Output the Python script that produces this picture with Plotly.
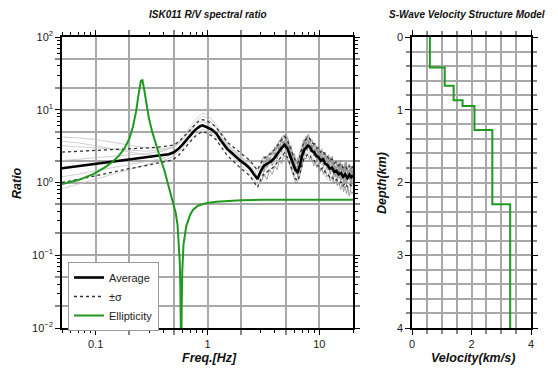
import plotly.graph_objects as go

# ---------------- data ----------------
# Average H/V ratio and +/- sigma
f_avg = [0.05, 0.06, 0.07, 0.085, 0.1, 0.12, 0.15, 0.2, 0.25, 0.3, 0.35, 0.4, 0.45, 0.5, 0.55,
         0.6, 0.65, 0.7, 0.75, 0.8, 0.85, 0.9, 0.95, 1.0, 1.1, 1.2, 1.3, 1.4, 1.5, 1.65,
         1.8, 2.0, 2.2, 2.4, 2.6, 2.8, 3.0, 3.2, 3.4, 3.7, 4.0, 4.3, 4.6, 4.9, 5.2,
         5.5, 5.8, 6.1, 6.4, 6.7, 7.0, 7.3, 7.6, 7.9, 8.2, 8.6, 9.0, 9.4, 9.8, 10.3,
         10.8, 11.3, 11.8, 12.4, 13.0, 13.6, 14.2, 14.9, 15.6, 16.3, 17.0, 17.8, 18.6, 19.3, 20.0]
avg = [1.57, 1.63, 1.68, 1.75, 1.81, 1.88, 1.96, 2.06, 2.14, 2.22, 2.3, 2.37, 2.45, 2.6, 2.9,
       3.35, 3.9, 4.4, 5.0, 5.5, 5.9, 6.1, 5.95, 5.7, 5.3, 4.7, 3.9, 3.3, 2.9, 2.55,
       2.25, 1.95, 1.75, 1.55, 1.3, 1.12, 1.45, 1.7, 1.8, 1.95, 2.2, 2.6, 3.0, 3.3, 2.9,
       2.3, 1.8, 1.5, 1.4, 1.7, 2.3, 2.8, 3.0, 3.2, 3.1, 2.7, 2.6, 2.3, 2.25, 2.0,
       2.1, 1.8, 1.75, 1.55, 1.6, 1.4, 1.45, 1.3, 1.35, 1.2, 1.3, 1.15, 1.28, 1.18, 1.25]
sig_up = [2.62, 2.65, 2.68, 2.72, 2.76, 2.8, 2.84, 2.9, 2.95, 3.0, 3.05, 3.1, 3.18, 3.3, 3.6,
          4.1, 4.7, 5.3, 6.0, 6.6, 7.1, 7.3, 7.2, 6.9, 6.4, 5.7, 4.8, 4.1, 3.6, 3.2,
          2.85, 2.5, 2.25, 2.0, 1.7, 1.48, 1.85, 2.15, 2.3, 2.5, 2.85, 3.4, 3.9, 4.3, 3.8,
          3.0, 2.4, 2.0, 1.85, 2.25, 3.0, 3.6, 3.9, 4.2, 4.0, 3.5, 3.4, 3.0, 2.95, 2.6,
          2.75, 2.35, 2.3, 2.0, 2.1, 1.85, 1.9, 1.7, 1.8, 1.6, 1.7, 1.5, 1.7, 1.55, 1.65]
sig_lo = [1.0, 1.05, 1.1, 1.17, 1.24, 1.32, 1.42, 1.55, 1.65, 1.74, 1.82, 1.9, 1.98, 2.1, 2.35,
          2.75, 3.2, 3.65, 4.1, 4.5, 4.8, 5.0, 4.9, 4.7, 4.35, 3.85, 3.2, 2.7, 2.35, 2.05,
          1.8, 1.55, 1.38, 1.22, 1.02, 0.86, 1.12, 1.32, 1.4, 1.52, 1.7, 2.0, 2.3, 2.55, 2.2,
          1.75, 1.35, 1.13, 1.05, 1.3, 1.75, 2.15, 2.3, 2.45, 2.4, 2.05, 2.0, 1.75, 1.7, 1.52,
          1.6, 1.38, 1.32, 1.18, 1.22, 1.06, 1.1, 0.98, 1.02, 0.9, 0.98, 0.87, 0.96, 0.9, 0.95]

# Individual spectral ratios (thin light grey, full band)
f_ind = [0.05, 0.07, 0.1, 0.14, 0.2, 0.28, 0.4, 0.5, 0.6, 0.7, 0.8, 0.9, 1.0, 1.2, 1.4, 1.6,
         1.9, 2.2, 2.5, 2.8, 3.1, 3.5, 3.9, 4.3, 4.7, 5.1, 5.5, 5.9, 6.3, 6.8, 7.3, 7.8,
         8.3, 8.9, 9.5, 10.2, 11, 11.8, 12.6, 13.5, 14.5, 15.5, 16.5, 17.6, 18.8, 20]
ind_1 = [4.2, 4.1, 3.9, 3.6, 3.3, 3.0, 2.9, 3.1, 3.9, 5.2, 6.9, 8.2, 7.6, 5.6, 3.9, 3.0,
         2.5, 2.0, 1.8, 1.4, 1.9, 2.4, 2.6, 3.5, 4.4, 4.6, 3.2, 2.3, 1.9, 2.9, 3.9, 4.4,
         4.0, 3.3, 3.1, 2.5, 2.6, 1.9, 2.2, 1.7, 1.9, 1.5, 1.8, 1.4, 1.7, 1.5]
ind_2 = [0.82, 0.95, 1.1, 1.3, 1.5, 1.75, 2.0, 2.3, 3.0, 3.9, 4.8, 5.4, 5.2, 4.2, 3.1, 2.4,
         1.9, 1.5, 1.2, 0.95, 1.1, 1.5, 1.6, 2.0, 2.6, 2.8, 2.0, 1.3, 1.1, 1.6, 2.3, 2.6,
         2.5, 2.1, 1.8, 1.6, 1.3, 1.1, 1.2, 1.0, 0.95, 1.0, 0.85, 0.9, 0.8, 0.85]
ind_3 = [3.2, 3.1, 3.0, 2.9, 2.8, 2.7, 2.8, 3.0, 3.8, 4.9, 6.3, 6.9, 6.4, 5.0, 3.7, 2.9,
         2.4, 1.9, 1.6, 1.25, 1.6, 2.0, 2.2, 2.9, 3.5, 3.8, 2.7, 1.9, 1.6, 2.3, 3.2, 3.6,
         3.5, 2.9, 2.7, 2.3, 2.1, 1.8, 1.7, 1.6, 1.5, 1.4, 1.5, 1.3, 1.4, 1.35]
ind_4 = [1.2, 1.3, 1.45, 1.6, 1.75, 1.95, 2.15, 2.5, 3.2, 4.2, 5.3, 5.9, 5.7, 4.5, 3.3, 2.6,
         2.1, 1.7, 1.35, 1.05, 1.3, 1.7, 1.8, 2.3, 2.8, 3.0, 2.2, 1.5, 1.3, 1.8, 2.6, 2.9,
         2.8, 2.4, 2.1, 1.8, 1.6, 1.4, 1.3, 1.2, 1.1, 1.15, 1.0, 1.05, 0.95, 1.0]
ind_5 = [2.0, 2.1, 2.2, 2.3, 2.4, 2.5, 2.7, 3.1, 4.2, 5.8, 7.6, 9.0, 8.5, 6.2, 4.3, 3.1,
         2.4, 1.9, 1.5, 1.2, 1.5, 1.9, 2.1, 2.8, 3.4, 3.7, 2.6, 1.7, 1.5, 2.2, 3.0, 3.4,
         3.3, 2.8, 2.5, 2.1, 2.0, 1.7, 1.6, 1.5, 1.4, 1.35, 1.3, 1.25, 1.3, 1.2]
ind_6 = [3.7, 3.5, 3.2, 2.9, 2.6, 2.4, 2.4, 2.6, 3.3, 4.3, 5.5, 6.0, 5.9, 4.9, 3.6, 2.8,
         2.3, 1.8, 1.5, 1.15, 1.4, 1.8, 2.0, 2.5, 3.0, 3.2, 2.3, 1.6, 1.4, 1.9, 2.7, 3.0,
         3.0, 2.5, 2.2, 1.9, 1.7, 1.5, 1.4, 1.3, 1.2, 1.2, 1.15, 1.1, 1.15, 1.1]
individual = [ind_1, ind_2, ind_3, ind_4, ind_5, ind_6]

# Noisy high-frequency portions of the individual ratios (darker grey)
f_hf = [3.0, 3.2, 3.4, 3.6, 3.8, 4.0, 4.2, 4.4, 4.6, 4.8, 5.0, 5.2, 5.4, 5.6, 5.8, 6.0,
        6.2, 6.4, 6.6, 6.8, 7.0, 7.2, 7.4, 7.6, 7.8, 8.0, 8.3, 8.6, 8.9, 9.2, 9.5, 9.8,
        10.1, 10.5, 10.9, 11.3, 11.7, 12.1, 12.5, 13.0, 13.5, 14.0, 14.5, 15.0, 15.5,
        16.0, 16.5, 17.0, 17.5, 18.0, 18.5, 19.0, 19.5, 20.0]
hf_1 = [1.9, 2.3, 2.0, 2.6, 2.4, 3.1, 2.9, 3.8, 3.5, 4.4, 3.9, 4.1, 3.0, 3.2, 2.2, 2.5,
        1.8, 2.2, 2.0, 2.8, 2.9, 3.8, 3.4, 4.3, 3.9, 4.6, 3.6, 3.9, 3.1, 3.5, 2.7, 3.2,
        2.5, 2.9, 2.4, 2.6, 2.1, 2.4, 1.9, 2.3, 1.7, 2.0, 1.6, 1.9, 1.5, 1.8, 1.4, 1.9,
        1.5, 1.6, 1.8, 1.4, 1.7, 1.6]
hf_2 = [1.0, 1.3, 1.1, 1.5, 1.3, 1.7, 1.5, 2.0, 1.8, 2.4, 2.2, 2.1, 1.8, 1.5, 1.3, 1.1,
        0.95, 1.05, 1.1, 1.4, 1.6, 2.0, 2.2, 2.1, 2.4, 2.3, 2.0, 2.1, 1.7, 1.9, 1.6, 1.7,
        1.4, 1.6, 1.3, 1.5, 1.2, 1.3, 1.05, 1.2, 0.95, 1.1, 0.9, 1.0, 0.8, 0.95, 0.75, 0.9,
        0.7, 0.85, 0.65, 0.8, 0.7, 0.75]
hf_3 = [1.3, 2.0, 1.6, 2.2, 1.7, 2.6, 2.1, 3.3, 2.6, 3.7, 2.8, 3.6, 2.2, 2.7, 1.6, 2.1,
        1.3, 1.8, 1.4, 2.3, 2.0, 3.2, 2.4, 3.6, 2.7, 3.8, 2.6, 3.3, 2.3, 2.9, 1.9, 2.8,
        1.8, 2.5, 1.7, 2.5, 1.5, 2.1, 1.3, 2.0, 1.2, 1.7, 1.1, 1.7, 1.0, 1.6, 1.0, 1.7,
        0.9, 1.5, 1.1, 1.6, 0.9, 1.5]
hf_4 = [1.7, 1.4, 2.3, 1.9, 2.8, 2.2, 3.4, 2.7, 4.2, 3.0, 4.6, 2.8, 3.3, 1.9, 2.4, 1.4,
        1.7, 1.2, 1.9, 1.6, 2.9, 2.5, 3.9, 3.0, 4.4, 3.2, 4.0, 2.9, 3.4, 2.4, 3.0, 2.1,
        2.8, 1.9, 2.6, 1.8, 2.3, 1.5, 2.2, 1.4, 1.9, 1.2, 1.8, 1.15, 2.0, 1.1, 1.6, 1.0,
        1.9, 1.1, 1.5, 0.85, 1.6, 1.2]
high_freq = [hf_1, hf_2, hf_3, hf_4]

# Rayleigh-wave ellipticity
f_ell = [0.05, 0.07, 0.095, 0.12, 0.14, 0.16, 0.18, 0.2, 0.215, 0.23, 0.24, 0.248, 0.254,
         0.262, 0.268, 0.275, 0.285, 0.3, 0.32, 0.35, 0.38, 0.41, 0.44, 0.47, 0.5, 0.52,
         0.54, 0.555, 0.565, 0.572, 0.578, 0.582, 0.588, 0.595, 0.61, 0.645, 0.7, 0.74,
         0.82, 0.97, 1.2, 1.47, 2.0, 3.0, 5.0, 10.0, 20.0]
ell = [0.95, 1.08, 1.3, 1.6, 1.9, 2.3, 2.9, 4.0, 5.8, 9.5, 15.0, 22.0, 25.0,
       25.5, 22.0, 17.0, 12.0, 7.5, 5.0, 3.1, 2.1, 1.5, 1.0, 0.72, 0.5, 0.38,
       0.26, 0.15, 0.08, 0.035, 0.008, 0.003, 0.02, 0.06, 0.14, 0.25, 0.36, 0.42,
       0.48, 0.52, 0.545, 0.56, 0.572, 0.578, 0.58, 0.58, 0.58]

# S-wave velocity structure
layer_top = [0.0, 0.42, 0.67, 0.87, 0.95, 1.28, 2.3]
layer_bottom = [0.42, 0.67, 0.87, 0.95, 1.28, 2.3, 4.0]
vs = [0.6, 1.1, 1.4, 1.7, 2.1, 2.7, 3.3]

# ticks / labels
freq_ticks = [0.1, 1, 10]
freq_labels = ["0.1", "1", "10"]
freq_grid_minor = [0.2, 0.5, 2, 5]
freq_small = [0.05, 0.06, 0.07, 0.08, 0.09, 0.3, 0.4, 0.6, 0.7, 0.8, 0.9,
              3, 4, 6, 7, 8, 9, 20]
ratio_ticks = [0.01, 0.1, 1, 10, 100]
ratio_labels = ["10<sup>\u22122</sup>", "10<sup>\u22121</sup>", "10<sup>0</sup>",
                "10<sup>1</sup>", "10<sup>2</sup>"]
ratio_grid_minor = [0.02, 0.05, 0.2, 0.5, 2, 5, 20, 50]
ratio_small = [0.03, 0.04, 0.06, 0.07, 0.08, 0.09, 0.3, 0.4, 0.6, 0.7, 0.8, 0.9,
               3, 4, 6, 7, 8, 9, 30, 40, 60, 70, 80, 90]
vel_ticks = [0, 2, 4]
vel_labels = ["0", "2", "4"]
vel_grid_minor = [0.5, 1, 1.5, 2.5, 3, 3.5]
depth_ticks = [0, 1, 2, 3, 4]
depth_labels = ["0", "1", "2", "3", "4"]
depth_grid_minor = [0.2, 0.4, 0.6, 0.8, 1.2, 1.4, 1.6, 1.8, 2.2, 2.4, 2.6, 2.8,
                    3.2, 3.4, 3.6, 3.8]

# ---------------- figure ----------------
W, H = 558, 376
GREEN = "#1f9a1f"
GRID = "#a8a8a8"
FONT = "Liberation Sans"

fig = go.Figure()

for yv in individual:
    fig.add_trace(go.Scatter(x=f_ind, y=yv, mode="lines", xaxis="x", yaxis="y",
                             line=dict(color="#c4c4c4", width=0.8), showlegend=False,
                             hoverinfo="skip"))
for yv in high_freq:
    fig.add_trace(go.Scatter(x=f_hf, y=yv, mode="lines", xaxis="x", yaxis="y",
                             line=dict(color="#8c8c8c", width=0.8), showlegend=False,
                             hoverinfo="skip"))

fig.add_trace(go.Scatter(x=f_avg, y=sig_up, mode="lines", name="\u00b1\u03c3",
                         line=dict(color="#333333", width=1.3, dash="dot"),
                         legendrank=2, xaxis="x", yaxis="y"))
fig.add_trace(go.Scatter(x=f_avg, y=sig_lo, mode="lines", name="\u00b1\u03c3",
                         line=dict(color="#333333", width=1.3, dash="dot"),
                         showlegend=False, xaxis="x", yaxis="y"))
fig.add_trace(go.Scatter(x=f_avg, y=avg, mode="lines", name="Average",
                         line=dict(color="black", width=2.6),
                         legendrank=1, xaxis="x", yaxis="y"))
fig.add_trace(go.Scatter(x=f_ell, y=ell, mode="lines", name="Ellipticity",
                         line=dict(color=GREEN, width=2),
                         legendrank=3, xaxis="x", yaxis="y"))

# velocity step profile built from the layers
vx, vy = [], []
for top, bot, v in zip(layer_top, layer_bottom, vs):
    vx += [v, v]
    vy += [top, bot]
fig.add_trace(go.Scatter(x=vx, y=vy, mode="lines", line=dict(color=GREEN, width=2),
                         showlegend=False, xaxis="x2", yaxis="y2"))

# empty traces registering the overlay axes used for the small log ticks
fig.add_trace(go.Scatter(x=[], y=[], xaxis="x3", yaxis="y", showlegend=False))
fig.add_trace(go.Scatter(x=[], y=[], xaxis="x", yaxis="y3", showlegend=False))

tickfont = dict(family=FONT, size=11, color="#222222")
common = dict(showline=True, linecolor="black", linewidth=1.5, mirror="allticks",
              showgrid=True, gridcolor=GRID, gridwidth=1.5, zeroline=False,
              ticks="outside", tickcolor="black", tickwidth=1, ticklen=5,
              tickfont=tickfont, automargin=False, tickmode="array")
minor_common = dict(ticks="outside", ticklen=4, tickcolor="#888888", tickwidth=1.5,
                    showgrid=True, gridcolor=GRID, gridwidth=1.5)
small_common = dict(showline=True, linecolor="black", linewidth=1.5, mirror="allticks",
                    showgrid=False, zeroline=False, ticks="outside", ticklen=3,
                    tickcolor="black", tickwidth=1, showticklabels=False,
                    automargin=False, tickmode="array")

x_dom1 = [62 / W, 353 / W]
x_dom2 = [412 / W, 531 / W]
y_dom = [1 - 328 / H, 1 - 37 / H]
xr = [-1.30103, 1.30103]

fig.update_layout(
    width=W, height=H,
    margin=dict(l=0, r=0, t=0, b=0),
    paper_bgcolor="white", plot_bgcolor="white",
    xaxis=dict(type="log", domain=x_dom1, range=xr,
               tickvals=freq_ticks, ticktext=freq_labels,
               minor=dict(tickvals=freq_grid_minor, **minor_common),
               anchor="y", **common),
    yaxis=dict(type="log", domain=y_dom, range=[-2, 2],
               tickvals=ratio_ticks, ticktext=ratio_labels,
               minor=dict(tickvals=ratio_grid_minor, **minor_common),
               anchor="x", **common),
    xaxis3=dict(type="log", range=xr, overlaying="x", anchor="y", side="bottom",
                tickvals=freq_small, **small_common),
    yaxis3=dict(type="log", range=[-2, 2], overlaying="y", anchor="x", side="left",
                tickvals=ratio_small, **small_common),
    xaxis2=dict(domain=x_dom2, range=[0, 4], tickvals=vel_ticks, ticktext=vel_labels,
                minor=dict(tickvals=vel_grid_minor, **minor_common),
                anchor="y2", **common),
    yaxis2=dict(domain=y_dom, range=[4, 0], tickvals=depth_ticks, ticktext=depth_labels,
                minor=dict(tickvals=depth_grid_minor, **minor_common),
                anchor="x2", **common),
    showlegend=True,
    legend=dict(x=68 / W, y=1 - 262 / H, xanchor="left", yanchor="top",
                bgcolor="white", bordercolor="#999999", borderwidth=1,
                font=dict(family=FONT, size=11, color="#222222"),
                itemwidth=30, tracegroupgap=0),
)


def label(text, x, y, size, angle=0):
    fig.add_annotation(text=text, x=x / W, y=1 - y / H, xref="paper", yref="paper",
                       showarrow=False, textangle=angle, xanchor="center", yanchor="middle",
                       font=dict(family=FONT, size=size, color="#111111",
                                 weight="bold", style="italic"))


label("ISK011 R/V spectral ratio", 208, 14, 10)
label("S-Wave Velocity Structure Model", 467, 14, 10)
label("Freq.[Hz]", 209, 358, 12.5)
label("Velocity(km/s)", 473, 358, 12.5)
label("Ratio", 17, 183, 12.5, -90)
label("Depth(km)", 382, 183, 12.5, -90)

fig.write_html("out.html")
